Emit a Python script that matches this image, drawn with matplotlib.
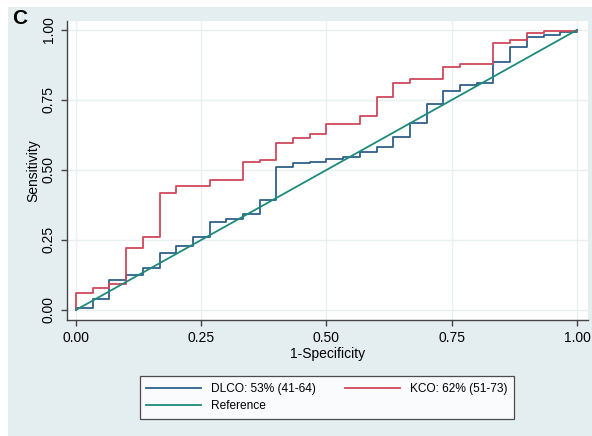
import numpy as np
import matplotlib
matplotlib.use("Agg")
import matplotlib.pyplot as plt
from matplotlib.patches import Rectangle

# 1-Specificity break points (30 controls -> steps of 1/30)
fpr_steps = np.arange(31) / 30.0

# Sensitivity reached at each break point
dlco_tpr = [0.006, 0.040, 0.107, 0.125, 0.150, 0.205, 0.230, 0.260, 0.315, 0.324,
            0.342, 0.393, 0.512, 0.524, 0.530, 0.538, 0.546, 0.564, 0.582, 0.619,
            0.669, 0.735, 0.782, 0.804, 0.812, 0.885, 0.940, 0.976, 0.983, 0.991, 1.0]
kco_tpr = [0.062, 0.080, 0.092, 0.220, 0.260, 0.419, 0.443, 0.443, 0.464, 0.464,
           0.530, 0.536, 0.595, 0.614, 0.629, 0.664, 0.664, 0.693, 0.762, 0.810,
           0.825, 0.825, 0.867, 0.879, 0.879, 0.952, 0.964, 0.990, 0.996, 0.996, 1.0]

labels = ["DLCO: 53% (41-64)", "KCO: 62% (51-73)", "Reference"]
colors = ["#2f6089", "#d0485a", "#1d8a7b"]
ticks = [0.0, 0.25, 0.5, 0.75, 1.0]
tick_labels = ["0.00", "0.25", "0.50", "0.75", "1.00"]

plt.rcParams['font.family'] = ['Liberation Sans', 'DejaVu Sans']

fig = plt.figure(figsize=(5.92, 4.36), dpi=100, facecolor="white")
# bluish graph region like Stata's s2color scheme
fig.patches.append(Rectangle((8 / 592, 0), 1, 1 - 7 / 436, transform=fig.transFigure,
                             facecolor="#e4eef1", edgecolor="none", zorder=-10))

ax = fig.add_axes([67 / 592, 1 - 320 / 436, (588 - 67) / 592, (320 - 21) / 436])
ax.set_facecolor("white")

def roc_step(tpr):
    # start at origin, rise at each break point
    xs = np.r_[0.0, fpr_steps]
    ys = np.r_[0.0, tpr]
    return xs, ys

xs, ys = roc_step(dlco_tpr)
h1, = ax.step(xs, ys, where="post", color=colors[0], lw=1.3, zorder=3)
xs, ys = roc_step(kco_tpr)
h2, = ax.step(xs, ys, where="post", color=colors[1], lw=1.3, zorder=3)
h3, = ax.plot([0, 1], [0, 1], color=colors[2], lw=1.3, zorder=4)

ax.set_xlim(-0.018, 1.022)
ax.set_ylim(-0.036, 1.032)
ax.set_xticks(ticks)
ax.set_xticklabels(tick_labels, fontsize=10)
ax.set_yticks(ticks)
ax.set_yticklabels(tick_labels, fontsize=10, rotation=90, va="center")
ax.grid(True, color="#e8f0f2", lw=1.0, zorder=0)
ax.set_axisbelow(True)
ax.tick_params(direction="out", length=4, width=1, color="#444444", pad=4)

for side in ["top", "right"]:
    ax.spines[side].set_visible(False)
for side in ["left", "bottom"]:
    ax.spines[side].set_color("#444444")
    ax.spines[side].set_linewidth(1.0)

ax.set_xlabel("1-Specificity", fontsize=10, labelpad=1)
ax.set_ylabel("Sensitivity", fontsize=10, labelpad=1)

leg = fig.legend([h1, h3, h2], [labels[0], labels[2], labels[1]], ncol=2,
                 loc="center", bbox_to_anchor=(326.7 / 592, 1 - 397.5 / 436),
                 fontsize=8.6, frameon=True, fancybox=False, edgecolor="#222222",
                 handlelength=4.6, columnspacing=2.4, handletextpad=0.85,
                 borderpad=0.55, labelspacing=0.45)
leg.get_frame().set_linewidth(0.9)

fig.text(12 / 592, 1 - 18 / 436, "C", fontsize=15, fontweight="bold", va="center")

fig.savefig("out.png", dpi=100, facecolor=fig.get_facecolor())
